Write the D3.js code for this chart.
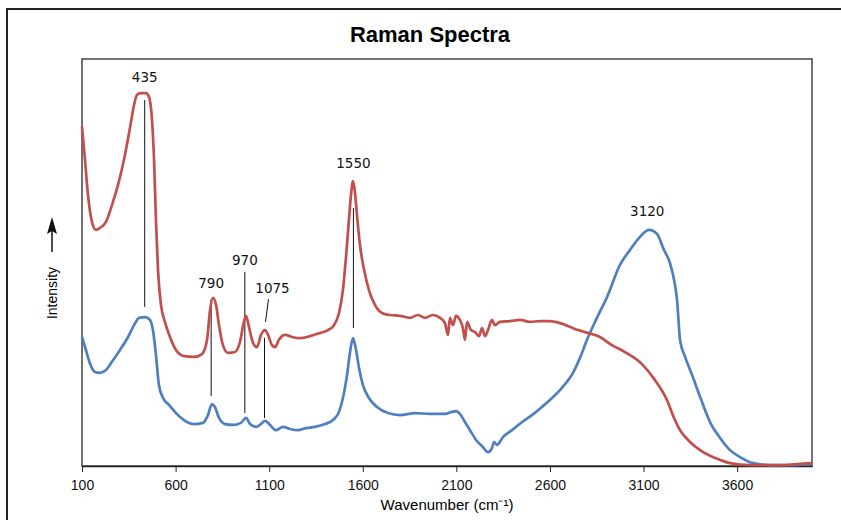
<!DOCTYPE html>
<html>
<head>
<meta charset="utf-8">
<script src="https://cdn.jsdelivr.net/npm/d3@7"></script>
<style>
  body { margin: 0; background: #fff; }
  svg { display: block; }
</style>
</head>
<body>
<div id="chart"></div>
<script>
// wavenumber (cm-1) / intensity (arbitrary units)
var redWave = [100,116,132,153,175,196,228,260,292,324,356,378,394,415,442,458,474,485,495,506,522,543,570,602,645,698,741,768,784,800,816,832,853,880,917,944,965,976,992,1014,1035,1056,1078,1094,1115,1131,1152,1185,1222,1265,1318,1372,1414,1446,1473,1494,1510,1526,1537,1548,1558,1569,1585,1607,1633,1665,1703,1745,1799,1852,1895,1932,1975,2013,2039,2055,2066,2082,2098,2119,2135,2146,2157,2178,2200,2221,2237,2253,2269,2290,2306,2333,2387,2440,2493,2547,2600,2654,2707,2750,2787,2825,2867,2931,3001,3097,3161,3225,3263,3295,3348,3402,3455,3509,3562,3669,3802,3936,4000];
var redInt  = [83.3,75.2,66.6,60.0,58.0,58.5,60.0,64.1,69.0,75.2,83.0,88.7,91.2,91.6,91.6,90.7,85.0,75.2,60.4,48.2,39.6,35.4,31.7,28.5,27.0,26.8,27.5,31.0,38.3,41.3,39.6,34.6,29.7,27.8,28.0,30.5,35.4,36.9,34.2,30.2,29.2,32.2,33.4,32.2,29.7,29.2,31.0,32.2,31.7,31.4,31.9,32.7,33.4,34.6,37.6,43.2,51.1,60.4,66.6,70.0,67.3,61.7,54.3,48.2,43.2,39.6,37.6,37.1,36.9,36.4,37.1,36.4,37.1,36.4,35.1,32.2,36.4,34.6,36.9,35.9,33.9,31.0,35.4,33.4,32.9,31.9,33.9,31.9,33.4,35.9,34.6,35.4,35.6,35.9,35.4,35.6,35.6,35.1,34.2,33.4,32.9,32.4,31.7,29.7,28.0,24.8,21.1,16.2,11.8,8.8,5.9,3.9,2.5,1.5,0.7,0.2,0.2,0.5,0.7];

var blueWave = [100,121,143,169,196,228,260,303,346,378,405,437,463,479,495,511,533,565,602,645,698,746,773,794,810,832,864,907,949,976,998,1030,1056,1078,1104,1136,1174,1211,1254,1297,1345,1398,1441,1473,1494,1516,1532,1548,1564,1580,1601,1633,1676,1735,1799,1879,1959,2039,2077,2098,2119,2146,2173,2205,2237,2269,2290,2301,2317,2349,2397,2451,2504,2557,2611,2664,2723,2760,2798,2851,2905,2974,3028,3081,3129,3172,3209,3241,3268,3279,3295,3322,3359,3402,3455,3509,3562,3616,3685,3776,3883,4000];
var blueInt  = [31.7,28.5,25.1,23.1,22.9,23.6,25.6,28.5,31.7,34.6,36.4,36.6,35.9,33.4,27.3,19.9,16.7,15.0,13.0,11.3,10.3,10.6,12.5,15.2,14.5,11.8,10.3,10.1,10.6,11.8,10.3,9.6,10.3,11.1,10.1,8.8,9.6,9.1,8.8,9.3,9.6,10.3,11.3,13.3,16.7,22.4,28.0,31.4,28.5,24.1,19.9,16.7,14.5,13.0,12.5,13.0,12.8,12.8,13.3,13.5,12.8,10.8,8.8,6.4,4.9,3.4,4.4,5.9,5.2,7.1,8.8,10.8,12.5,14.5,16.7,19.2,22.9,26.5,31.0,36.4,41.5,49.4,53.1,56.3,58.0,57.0,53.1,49.9,44.5,40.8,31.0,26.8,22.4,17.0,10.8,6.9,3.9,2.2,0.7,0.2,0.2,0.5];

var xTicks = [100,600,1100,1600,2100,2600,3100,3600];

// peak labels: value, label y-level (intensity), line from/to (intensity)
var peakVals  = [435, 790, 970, 1075, 1550, 3120];
var peakLabY  = [94.3, 43.7, 49.4, 42.5, 73.3, 61.4];
var lineTop   = [89.9, 41.0, 47.7, null, 63.4, null];
var lineBot   = [39.1, 17.2, 13.0, 11.8, 33.9, null];

var w = 841, h = 520;
var mLeft = 82, mRight = 812, mTop = 59, mBottom = 466;

var svg = d3.select("#chart").append("svg")
  .attr("width", w)
  .attr("height", h);

// outer frame
svg.append("rect")
  .attr("x", 7).attr("y", 9)
  .attr("width", 860).attr("height", 540)
  .attr("fill", "none")
  .attr("stroke", "#222")
  .attr("stroke-width", 2);

var x = d3.scaleLinear().domain([100, 4000]).range([mLeft, mRight]);
var y = d3.scaleLinear().domain([0, 100]).range([mBottom, mTop]);

svg.append("text")
  .attr("x", 430).attr("y", 42)
  .attr("text-anchor", "middle")
  .style("font-family", "'Liberation Sans', Arial, sans-serif")
  .style("font-weight", "bold")
  .style("font-size", "22px")
  .text("Raman Spectra");

// plot box
svg.append("rect")
  .attr("x", mLeft).attr("y", mTop)
  .attr("width", mRight - mLeft).attr("height", mBottom - mTop)
  .attr("fill", "none")
  .attr("stroke", "#444")
  .attr("stroke-width", 1.5);

var xAxis = svg.append("g")
  .attr("transform", "translate(0," + mBottom + ")")
  .call(d3.axisBottom(x).tickValues(xTicks).tickSize(6).tickSizeOuter(0).tickFormat(d3.format("d")));
xAxis.select(".domain").attr("stroke", "#222").attr("stroke-width", 1.5);
xAxis.selectAll(".tick line").attr("stroke", "#222");
xAxis.selectAll("text")
  .attr("dy", "1.05em")
  .style("font-family", "'Liberation Sans', Arial, sans-serif")
  .style("font-size", "14px")
  .attr("fill", "#111");

svg.append("text")
  .attr("x", 447).attr("y", 510)
  .attr("text-anchor", "middle")
  .style("font-family", "'Liberation Sans', Arial, sans-serif")
  .style("font-size", "15px")
  .text("Wavenumber (cm\u207B\u00B9)");

// y label with arrow
svg.append("text")
  .attr("transform", "translate(57,293) rotate(-90)")
  .attr("text-anchor", "middle")
  .style("font-family", "'Liberation Sans', Arial, sans-serif")
  .style("font-size", "14px")
  .text("Intensity");
svg.append("line")
  .attr("x1", 52).attr("x2", 52)
  .attr("y1", 252).attr("y2", 230)
  .attr("stroke", "#111").attr("stroke-width", 1.5);
svg.append("path")
  .attr("d", "M52,217 L47,234 L52,231 L57,234 Z")
  .attr("fill", "#111");

// marker lines (under the curves)
peakVals.forEach(function(v, i) {
  if (lineTop[i] != null) {
    svg.append("line")
      .attr("x1", x(v)).attr("x2", x(v))
      .attr("y1", y(lineTop[i])).attr("y2", y(lineBot[i]))
      .attr("stroke", "#111").attr("stroke-width", 1);
  }
});
// 1075: slanted pointer to the red peak, then vertical to the blue one
svg.append("line")
  .attr("x1", x(1075) + 4).attr("y1", y(41.0))
  .attr("x2", x(1075) + 1).attr("y2", y(35.4))
  .attr("stroke", "#111").attr("stroke-width", 1);
svg.append("line")
  .attr("x1", x(1075)).attr("x2", x(1075))
  .attr("y1", y(31.5)).attr("y2", y(lineBot[3]))
  .attr("stroke", "#111").attr("stroke-width", 1);

var line = d3.line()
  .x(function(d) { return x(d[0]); })
  .y(function(d) { return y(d[1]); })
  .curve(d3.curveMonotoneX);

svg.append("path")
  .datum(d3.zip(blueWave, blueInt))
  .attr("d", line)
  .attr("fill", "none")
  .attr("stroke", "#4f7fbf")
  .attr("stroke-width", 2.7)
  .attr("stroke-linejoin", "round");

svg.append("path")
  .datum(d3.zip(redWave, redInt))
  .attr("d", line)
  .attr("fill", "none")
  .attr("stroke", "#c24f4c")
  .attr("stroke-width", 2.7)
  .attr("stroke-linejoin", "round");

// peak labels
svg.selectAll("text.peak")
  .data(peakVals)
  .enter()
  .append("text")
  .attr("class", "peak")
  .attr("x", function(d, i) { return d == 1075 ? x(d) + 8 : x(d); })
  .attr("y", function(d, i) { return y(peakLabY[i]); })
  .attr("text-anchor", "middle")
  .style("font-family", "'DejaVu Sans', sans-serif")
  .style("font-size", "13.5px")
  .attr("fill", "#111")
  .text(function(d) { return d; });
</script>
</body>
</html>
